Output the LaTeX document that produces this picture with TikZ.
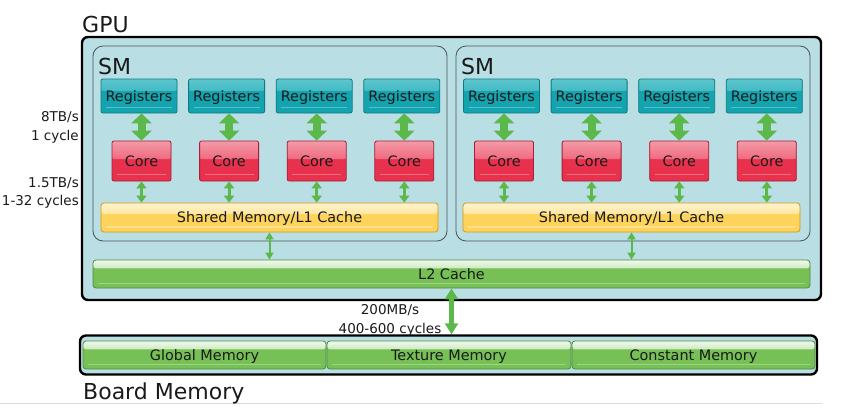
\documentclass[tikz,border=0pt]{standalone}
\usepackage{fontspec}
\setmainfont{DejaVu Sans}
\usetikzlibrary{arrows.meta,calc}

\definecolor{panel}{HTML}{B9DEE3}
\definecolor{regbase}{HTML}{14A4AF}
\definecolor{regtop}{HTML}{5CC6CE}
\definecolor{regedge}{HTML}{0D7A82}
\definecolor{corebase}{HTML}{E8314D}
\definecolor{coretop}{HTML}{F49AA8}
\definecolor{coreedge}{HTML}{A61E37}
\definecolor{shbase}{HTML}{FDD35B}
\definecolor{shtop}{HTML}{FFF3CC}
\definecolor{shedge}{HTML}{D29A22}
\definecolor{grbase}{HTML}{76C055}
\definecolor{grtop}{HTML}{F2FAEE}
\definecolor{gredge}{HTML}{4F8A40}
\definecolor{arrowgreen}{HTML}{5CB84B}
\definecolor{smedge}{HTML}{4A5558}
\definecolor{ink}{HTML}{1A1A1A}

\tikzset{
  % glossy fill: light band fading into the base colour, plus a soft lower streak
  glossy/.style n args={3}{
    fill=#2,
    path picture={
      \shade[top color=#1, bottom color=#2]
        (path picture bounding box.north west) rectangle
        ($(path picture bounding box.north east)!#3!(path picture bounding box.south east)$);
      \draw[white, opacity=0.3, line width=1.4pt]
        ($(path picture bounding box.south west)!0.17!(path picture bounding box.north west)+(5pt,0)$) --
        ($(path picture bounding box.south east)!0.17!(path picture bounding box.north east)+(-5pt,0)$);
    }
  },
  boxfont/.style={font=\fontsize{14.4}{16}\selectfont, text=ink, text height=10.4pt, text depth=0pt},
  titlefont/.style={font=\fontsize{22}{24}\selectfont, text=ink},
  notefont/.style={font=\fontsize{13.5}{18.5}\selectfont, text=ink},
  gpubox/.style={draw=black, line width=2.4pt, rounded corners=6pt, fill=panel, inner sep=0pt},
  smbox/.style={draw=smedge, line width=0.8pt, rounded corners=10pt, fill=panel, inner sep=0pt},
  regbox/.style={glossy={regtop}{regbase}{0.35}, draw=regedge, line width=0.8pt, rounded corners=2pt,
    minimum width=76pt, minimum height=34pt, inner sep=0pt, boxfont},
  corebox/.style={glossy={coretop}{corebase}{0.45}, draw=coreedge, line width=0.8pt, rounded corners=2pt,
    minimum width=59pt, minimum height=40pt, inner sep=0pt, boxfont},
  sharedbox/.style={glossy={shtop}{shbase}{0.38}, draw=shedge, line width=0.8pt, rounded corners=3pt,
    minimum width=337pt, minimum height=29pt, inner sep=0pt, boxfont},
  greenbar/.style={glossy={grtop}{grbase}{0.3}, draw=gredge, line width=0.8pt, rounded corners=3pt,
    minimum height=28pt, inner sep=0pt, boxfont},
  bigarrow/.style={draw=arrowgreen, line width=8pt,
    {Triangle[width=20pt,length=10pt]}-{Triangle[width=20pt,length=10pt]}},
  thinarrow/.style={draw=arrowgreen, line width=3pt,
    {Triangle[width=10pt,length=7pt]}-{Triangle[width=10pt,length=7pt]}},
  finearrow/.style={draw=arrowgreen, line width=2pt,
    {Triangle[width=8pt,length=7pt]}-{Triangle[width=8pt,length=7pt]}},
  midarrow/.style={draw=arrowgreen, line width=5pt,
    {Triangle[width=13pt,length=11pt]}-{Triangle[width=13pt,length=11pt]}},
  sepline/.style={draw=black!14, line width=0.8pt}
}

\begin{document}
\begin{tikzpicture}[x=1pt, y=-1pt]
\useasboundingbox (0,0) rectangle (843,418);

% faint rule under the diagram
\coordinate (ruleL) at (0,403);
\coordinate (ruleR) at (822,403);
\draw[sepline] (ruleL) -- (ruleR);

% GPU enclosure
\node[gpubox, minimum width=739pt, minimum height=263pt] (gpu) at (451.5,168.5) {};
\node[titlefont, anchor=base west, inner sep=0pt] (gputitle) at (82,32) {GPU};

% streaming multiprocessors
\node[smbox, minimum width=354pt, minimum height=195pt] (sm1) at (270,143.5) {};
\node[smbox, minimum width=354pt, minimum height=195pt] (sm2) at (633,143.5) {};
\node[titlefont, anchor=base west, inner sep=0pt] (sm1title) at (98,74) {SM};
\node[titlefont, anchor=base west, inner sep=0pt] (sm2title) at (461,74) {SM};

% registers and cores of each SM
\foreach \s/\xa in {1/139, 2/501.5} {
  \foreach \i in {1,2,3,4} {
    \pgfmathsetmacro{\xc}{\xa + (\i-1)*87.6}
    \node[regbox] (reg-\s-\i) at (\xc,96) {Registers};
    \node[corebox] (core-\s-\i) at (\xc+2.5,161) {Core};
  }
}

% shared memory / L1 per SM
\node[sharedbox] (shared-1) at (269.5,217.5) {Shared Memory/L1 Cache};
\node[sharedbox] (shared-2) at (631.5,217.5) {Shared Memory/L1 Cache};

% L2 cache
\node[greenbar, minimum width=717pt] (l2) at (451.5,274) {L2 Cache};

% board memory
\node[gpubox, minimum width=737pt, minimum height=39pt] (board) at (448.5,355) {};
\node[greenbar, minimum width=243pt] (global) at (204.5,355) {Global Memory};
\node[greenbar, minimum width=244pt] (texture) at (449,355) {Texture Memory};
\node[greenbar, minimum width=243pt] (constant) at (693.5,355) {Constant Memory};
\node[titlefont, anchor=base west, inner sep=0pt] (boardtitle) at (83,399) {Board Memory};

% data paths
\foreach \s in {1,2} {
  \foreach \i in {1,2,3,4} {
    \draw[bigarrow] (core-\s-\i.north) -- (core-\s-\i.north |- reg-\s-\i.south);
    \draw[thinarrow] (core-\s-\i.south) -- (core-\s-\i.south |- shared-\s.north);
  }
  \draw[finearrow] (shared-\s.south) -- (shared-\s.south |- l2.north);
}
\draw[midarrow] (l2.south) -- (l2.south |- board.north);

% bandwidth / latency notes
\node[notefont, align=right, anchor=east, inner sep=0pt] (regnote) at (79,127.5) {8TB/s\\1 cycle};
\node[notefont, align=right, anchor=east, inner sep=0pt] (l1note) at (79,193) {1.5TB/s\\1-32 cycles};
\node[notefont, align=center, inner sep=0pt] (memnote) at (390,320.5) {200MB/s\\400-600 cycles};
\end{tikzpicture}
\end{document}
